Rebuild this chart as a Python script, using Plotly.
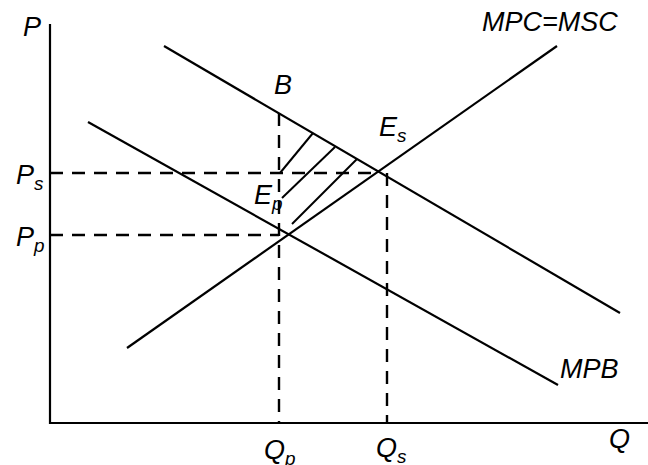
import plotly.graph_objects as go

# Curve endpoints (Q, P) in diagram units
msb_q = [22.8, 114.0]
msb_p = [94.25, 27.5]
mpb_q = [7.6, 101.6]
mpb_p = [75.25, 9.5]
mpc_q = [15.4, 101.4]
mpc_p = [18.75, 94.25]

# Key levels
Qp, Qs = 45.8, 67.4
Pp, Ps = 47.0, 62.5
B_p = 77.5
Ep = (47.2, 47.25)
Es = (66.0, 62.5)

# Hatch segments (start Q, start P, end Q, end P)
hatch = [
    (52.6, 72.5, 46.0, 62.5),
    (57.0, 69.0, 46.4, 56.25),
    (61.4, 66.0, 48.4, 49.75),
]

x_max, y_max = 119.6, 99.75

fig = go.Figure()
line = dict(color="black", width=2.2)
dash = dict(color="black", width=2.4, dash="13px,9px")

# axes
fig.add_trace(go.Scatter(x=[0, 0, x_max], y=[y_max, 0, 0], mode="lines", line=line))
# curves
fig.add_trace(go.Scatter(x=msb_q, y=msb_p, mode="lines", line=line))
fig.add_trace(go.Scatter(x=mpb_q, y=mpb_p, mode="lines", line=line))
fig.add_trace(go.Scatter(x=mpc_q, y=mpc_p, mode="lines", line=line))
# dashed guides
fig.add_trace(go.Scatter(x=[0, Es[0]], y=[Ps, Ps], mode="lines", line=dash))
fig.add_trace(go.Scatter(x=[0, Qp], y=[Pp, Pp], mode="lines", line=dash))
fig.add_trace(go.Scatter(x=[Qp, Qp], y=[B_p, 0], mode="lines", line=dash))
fig.add_trace(go.Scatter(x=[Qs, Qs], y=[Ps, 0], mode="lines", line=dash))
# hatching
for (q0, p0, q1, p1) in hatch:
    fig.add_trace(go.Scatter(x=[q0, q1], y=[p0, p1], mode="lines",
                             line=dict(color="black", width=2)))

font = dict(family="Liberation Sans, Arial, sans-serif", size=27, color="black")
labels = [
    (-3.6, 99.0, "<i>P</i>"),
    (-4.0, 61.5, "<i>P<sub>s</sub></i>"),
    (-4.0, 46.0, "<i>P<sub>p</sub></i>"),
    (46.6, 84.5, "<i>B</i>"),
    (68.5, 73.5, "<i>E<sub>s</sub></i>"),
    (43.6, 56.5, "<i>E<sub>p</sub></i>"),
    (46.0, -7.2, "<i>Q<sub>p</sub></i>"),
    (68.2, -6.8, "<i>Q<sub>s</sub></i>"),
    (113.8, -4.0, "<i>Q</i>"),
    (100.0, 100.2, "<i>MPC=MSC</i>"),
    (107.8, 13.6, "<i>MPB</i>"),
]
for (x, y, t) in labels:
    fig.add_annotation(x=x, y=y, text=t, showarrow=False, font=font, xanchor="center")

fig.update_layout(
    width=648, height=465,
    margin=dict(l=0, r=0, t=0, b=0),
    paper_bgcolor="white", plot_bgcolor="white",
    showlegend=False,
    xaxis=dict(range=[-10, x_max], visible=False, fixedrange=True),
    yaxis=dict(range=[-10.5, 105.75], visible=False, fixedrange=True),
)

fig.write_html("out.html", config={"displayModeBar": False},
               post_script="document.body.style.margin='0';document.body.style.overflow='hidden';")
